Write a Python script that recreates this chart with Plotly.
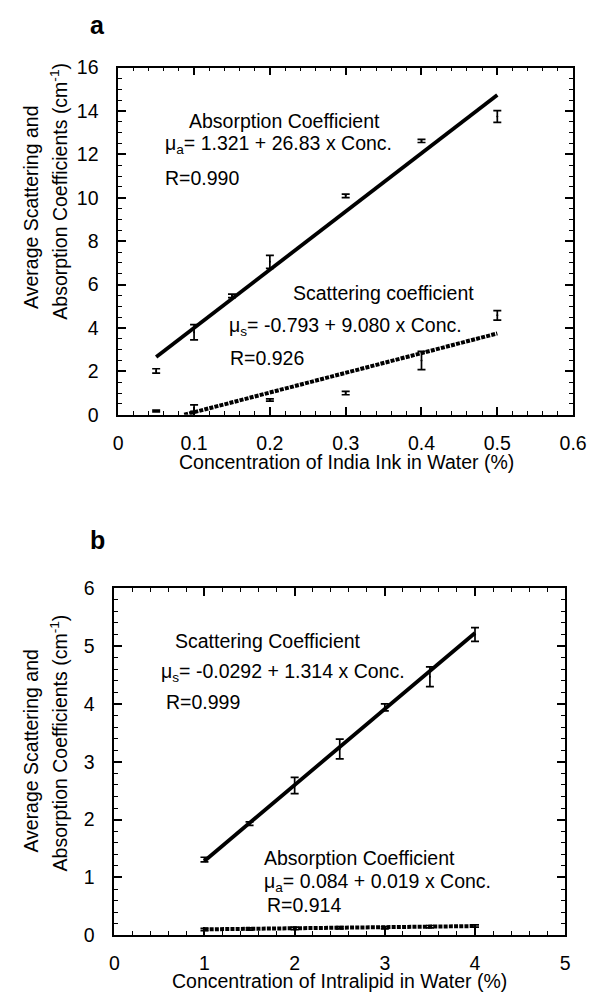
import numpy as np
import plotly.graph_objects as go

W, H = 599, 1000
# observed render mapping: screen = S * figure_px + offset
S, OFFX, OFFY = 0.975, 11.0, 18.5

# ---------------- Data: panel a (India ink) ----------------
a_abs_x = [0.05, 0.10, 0.15, 0.20, 0.30, 0.40, 0.50]
a_abs_y = [2.02, 3.80, 5.48, 7.05, 10.09, 12.62, 13.75]
a_abs_err = [0.10, 0.35, 0.08, 0.30, 0.08, 0.07, 0.27]
a_sca_x = [0.05, 0.10, 0.20, 0.30, 0.40, 0.50]
a_sca_y = [0.17, 0.30, 0.68, 1.00, 2.50, 4.58]
a_sca_err = [0.04, 0.15, 0.05, 0.08, 0.42, 0.22]
a_abs_fit = [1.321, 26.83]      # intercept, slope
a_abs_fit_range = [0.05, 0.50]
a_sca_fit = [-0.793, 9.080]
a_sca_fit_range = [0.087, 0.50]

# ---------------- Data: panel b (Intralipid) ----------------
b_sca_x = [1.0, 1.5, 2.0, 2.5, 3.0, 3.5, 4.0]
b_sca_y = [1.31, 1.93, 2.59, 3.22, 3.94, 4.47, 5.20]
b_sca_err = [0.04, 0.03, 0.14, 0.17, 0.06, 0.17, 0.12]
b_abs_x = [1.0, 1.5, 2.0, 2.5, 3.0, 3.5, 4.0]
b_abs_y = [0.10, 0.11, 0.12, 0.13, 0.13, 0.15, 0.16]
b_abs_err = [0.02, 0.02, 0.02, 0.02, 0.02, 0.02, 0.02]
b_sca_fit = [-0.0292, 1.314]
b_sca_fit_range = [1.0, 4.0]
b_abs_fit = [0.084, 0.019]
b_abs_fit_range = [1.0, 4.0]

a_xticks = [0, 0.1, 0.2, 0.3, 0.4, 0.5, 0.6]
a_xticklabels = ["0", "0.1", "0.2", "0.3", "0.4", "0.5", "0.6"]
a_yticks = [0, 2, 4, 6, 8, 10, 12, 14, 16]
b_xticks = [0, 1, 2, 3, 4, 5]
b_yticks = [0, 1, 2, 3, 4, 5, 6]

FONT = "Liberation Sans, Arial, Helvetica, sans-serif"
TXT = 19.5

def px_x(px):
    return ((px - OFFX) / S) / W

def px_y(py):
    return 1 - ((py - OFFY) / S) / H

def fit_line(params, rng):
    xs = np.array(rng)
    return xs, params[0] + params[1] * xs

fig = go.Figure()

err_style = dict(type="data", thickness=1.7, width=4, color="black")

# panel a
fx, fy = fit_line(a_abs_fit, a_abs_fit_range)
fig.add_trace(go.Scatter(x=fx, y=fy, mode="lines", line=dict(color="black", width=3.8),
                         xaxis="x", yaxis="y", showlegend=False))
fx, fy = fit_line(a_sca_fit, a_sca_fit_range)
fig.add_trace(go.Scatter(x=fx, y=fy, mode="lines",
                         line=dict(color="black", width=4, dash="4px,1.2px"),
                         xaxis="x", yaxis="y", showlegend=False))
fig.add_trace(go.Scatter(x=a_abs_x, y=a_abs_y, mode="markers",
                         marker=dict(size=2, color="black"),
                         error_y=dict(array=a_abs_err, **err_style),
                         xaxis="x", yaxis="y", showlegend=False))
fig.add_trace(go.Scatter(x=a_sca_x, y=a_sca_y, mode="markers",
                         marker=dict(size=2, color="black"),
                         error_y=dict(array=a_sca_err, **err_style),
                         xaxis="x", yaxis="y", showlegend=False))

# panel b
fx, fy = fit_line(b_sca_fit, b_sca_fit_range)
fig.add_trace(go.Scatter(x=fx, y=fy, mode="lines", line=dict(color="black", width=3.8),
                         xaxis="x2", yaxis="y2", showlegend=False))
fx, fy = fit_line(b_abs_fit, b_abs_fit_range)
fig.add_trace(go.Scatter(x=fx, y=fy, mode="lines",
                         line=dict(color="black", width=4, dash="4px,1.2px"),
                         xaxis="x2", yaxis="y2", showlegend=False))
fig.add_trace(go.Scatter(x=b_sca_x, y=b_sca_y, mode="markers",
                         marker=dict(size=2, color="black"),
                         error_y=dict(array=b_sca_err, **err_style),
                         xaxis="x2", yaxis="y2", showlegend=False))
fig.add_trace(go.Scatter(x=b_abs_x, y=b_abs_y, mode="markers",
                         marker=dict(size=2, color="black"),
                         error_y=dict(array=b_abs_err, **err_style),
                         xaxis="x2", yaxis="y2", showlegend=False))

def axis_common(tickvals, ticktext, rng, domain, minor_dtick, anchor, standoff):
    return dict(
        range=rng, domain=domain, anchor=anchor,
        tickmode="array", tickvals=tickvals, ticktext=ticktext,
        ticks="inside", ticklen=8, tickwidth=1.5, tickcolor="black",
        showline=True, linecolor="black", linewidth=1.7, mirror="allticks",
        showgrid=False, zeroline=False,
        tickfont=dict(family=FONT, size=TXT, color="black"),
        ticklabelstandoff=standoff,
        minor=dict(dtick=minor_dtick, ticks="inside", ticklen=4, tickwidth=1.2,
                   tickcolor="black", showgrid=False),
    )

fig.update_layout(
    width=W, height=H,
    margin=dict(l=0, r=0, t=0, b=0),
    paper_bgcolor="white", plot_bgcolor="white",
    font=dict(family=FONT, color="black", size=TXT),
    xaxis=axis_common(a_xticks, a_xticklabels, [0, 0.6],
                      [px_x(117), px_x(575)], 0.02, "y", 10),
    yaxis=axis_common(a_yticks, [str(v) for v in a_yticks], [0, 16],
                      [px_y(413), px_y(67)], 0.5, "x", 14),
    xaxis2=axis_common(b_xticks, [str(v) for v in b_xticks], [0, 5],
                       [px_x(113), px_x(567)], 0.2, "y2", 9),
    yaxis2=axis_common(b_yticks, [str(v) for v in b_yticks], [0, 6],
                       [px_y(932), px_y(586)], 0.2, "x2", 14),
)

ann = []
def text(x, y, s, size=TXT, anchor="left", angle=0, bold=False):
    ann.append(dict(x=px_x(x), y=px_y(y), xref="paper", yref="paper",
                    text=("<b>%s</b>" % s) if bold else s, showarrow=False,
                    xanchor=anchor, yanchor="middle", textangle=angle,
                    font=dict(family=FONT, size=size, color="black")))

# panel labels
text(96, 24, "a", size=25, anchor="center", bold=True)
text(96, 538, "b", size=25, anchor="center", bold=True)

# axis titles
text(347, 460, "Concentration of India Ink in Water (%)", anchor="center")
text(340, 978, "Concentration of Intralipid in Water (%)", anchor="center")
text(29, 206, "Average Scattering and", anchor="center", angle=-90)
text(57, 190, "Absorption Coefficients (cm<sup>-1</sup>)", anchor="center", angle=-90)
text(29, 748, "Average Scattering and", anchor="center", angle=-90)
text(57, 740, "Absorption Coefficients (cm<sup>-1</sup>)", anchor="center", angle=-90)

# panel a annotations
text(186, 120, "Absorption Coefficient")
text(162, 144, "μ<sub>a</sub>= 1.321 + 26.83 x Conc.")
text(162, 177, "R=0.990")
text(291, 292, "Scattering coefficient")
text(226, 325, "μ<sub>s</sub>= -0.793 + 9.080 x Conc.")
text(227, 356, "R=0.926")

# panel b annotations
text(172, 639, "Scattering Coefficient")
text(158, 670, "μ<sub>s</sub>= -0.0292 + 1.314 x Conc.")
text(163, 699, "R=0.999")
text(262, 855, "Absorption Coefficient")
text(262, 879, "μ<sub>a</sub>= 0.084 + 0.019 x Conc.")
text(265, 902, "R=0.914")

fig.update_layout(annotations=ann)
fig.write_html("out.html")
